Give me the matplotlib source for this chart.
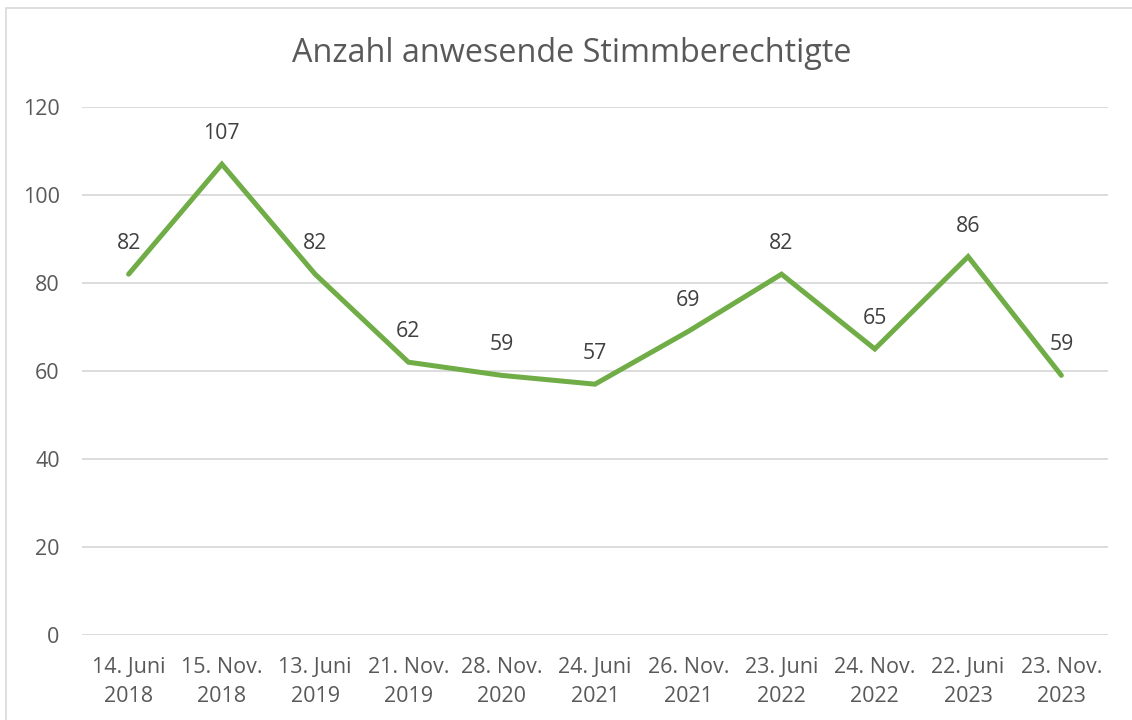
import matplotlib
matplotlib.use("Agg")
import matplotlib.pyplot as plt
from matplotlib.patches import Rectangle

dates = ["14. Juni\n2018", "15. Nov.\n2018", "13. Juni\n2019", "21. Nov.\n2019",
         "28. Nov.\n2020", "24. Juni\n2021", "26. Nov.\n2021", "23. Juni\n2022",
         "24. Nov.\n2022", "22. Juni\n2023", "23. Nov.\n2023"]
anwesend = [82, 107, 82, 62, 59, 57, 69, 82, 65, 86, 59]
yticks = [0, 20, 40, 60, 80, 100, 120]

plt.rcParams['font.family'] = ['Open Sans', 'DejaVu Sans']
txt = '#595959'
grid = '#d9d9d9'

fig = plt.figure(figsize=(11.32, 7.2), dpi=100)
ax = fig.add_axes([0.0724, 0.1181, 0.9064, 0.7333])

x = list(range(len(anwesend)))
ax.plot(x, anwesend, color='#70ad47', linewidth=3.6, solid_capstyle='round',
        solid_joinstyle='miter', zorder=3)
for xi, v in zip(x, anwesend):
    ax.annotate(str(v), (xi, v), xytext=(0, 22), textcoords='offset points',
                ha='center', va='center', fontsize=15.3, color='#404040')

ax.set_xlim(-0.5, len(anwesend) - 0.5)
ax.set_ylim(0, 120)
ax.set_yticks(yticks)
ax.set_xticks(x)
ax.set_xticklabels(dates, fontsize=15.5, color=txt, linespacing=1.5)
ax.tick_params(axis='y', labelsize=15.5, labelcolor=txt, length=0, pad=16)
ax.tick_params(axis='x', length=0, pad=16)
ax.grid(axis='y', color=grid, linewidth=1.3)
ax.set_axisbelow(True)
for s in ax.spines.values():
    s.set_visible(False)

fig.text(0.505, 0.925, "Anzahl anwesende Stimmberechtigte", ha='center', va='center',
         fontsize=23.3, color=txt)

fig.patches.append(Rectangle((6 / 1132, -0.01), 1.0, 1 - 8 / 720 + 0.01,
                             transform=fig.transFigure, fill=False,
                             edgecolor=grid, linewidth=1.2))

fig.savefig("out.png", dpi=100)
